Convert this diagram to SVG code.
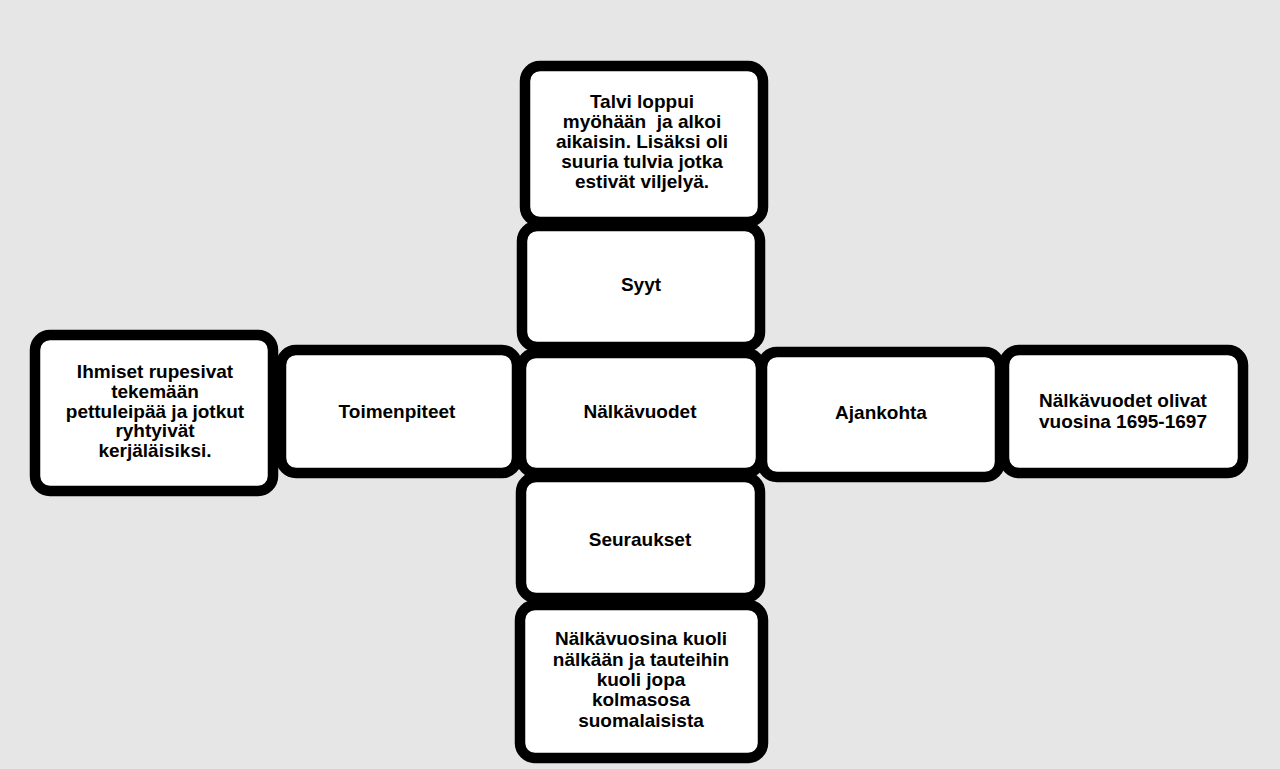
<svg xmlns="http://www.w3.org/2000/svg" width="1280" height="769" viewBox="0 0 1280 769">
<style>
.box{fill:#ffffff;stroke:#000000;stroke-width:10.5}
.t{font-family:"Liberation Sans",Arial,sans-serif;font-weight:bold;font-size:19px;fill:#000000;text-anchor:middle}
</style>
<rect x="0" y="0" width="1280" height="769" fill="#e6e6e6"/>
<g id="connectors"></g>
<g id="n-talvi">
<rect class="box" x="525" y="66" width="238" height="156" rx="15"/>
<text class="t" x="642" y="108">Talvi loppui</text>
<text class="t" x="642" y="128" xml:space="preserve">myöhään  ja alkoi</text>
<text class="t" x="642" y="148">aikaisin. Lisäksi oli</text>
<text class="t" x="642" y="168">suuria tulvia jotka</text>
<text class="t" x="642" y="188">estivät viljelyä.</text>
</g>
<g id="n-syyt">
<rect class="box" x="522" y="226" width="238" height="121" rx="15"/>
<text class="t" x="641" y="291">Syyt</text>
</g>
<g id="n-nalkavuodet">
<rect class="box" x="521" y="353" width="240" height="120" rx="15"/>
<text class="t" x="640" y="418">Nälkävuodet</text>
</g>
<g id="n-seuraukset">
<rect class="box" x="521" y="477" width="239" height="121" rx="15"/>
<text class="t" x="640" y="546">Seuraukset</text>
</g>
<g id="n-kuoli">
<rect class="box" x="520" y="605" width="243" height="153" rx="15"/>
<text class="t" x="641" y="645">Nälkävuosina kuoli</text>
<text class="t" x="641" y="666">nälkään ja tauteihin</text>
<text class="t" x="641" y="686">kuoli jopa</text>
<text class="t" x="641" y="706">kolmasosa</text>
<text class="t" x="641" y="727">suomalaisista</text>
</g>
<g id="n-toimenpiteet">
<rect class="box" x="281" y="350" width="236" height="123" rx="15"/>
<text class="t" x="397" y="418">Toimenpiteet</text>
</g>
<g id="n-ihmiset">
<rect class="box" x="35" y="335" width="238" height="156" rx="15"/>
<text class="t" x="155" y="378">Ihmiset rupesivat</text>
<text class="t" x="155" y="398">tekemään</text>
<text class="t" x="155" y="418">pettuleipää ja jotkut</text>
<text class="t" x="155" y="437">ryhtyivät</text>
<text class="t" x="155" y="457">kerjäläisiksi.</text>
</g>
<g id="n-ajankohta">
<rect class="box" x="762" y="352" width="238" height="125" rx="15"/>
<text class="t" x="881" y="419">Ajankohta</text>
</g>
<g id="n-vuosina">
<rect class="box" x="1004" y="350" width="239" height="123" rx="15"/>
<text class="t" x="1123" y="407">Nälkävuodet olivat</text>
<text class="t" x="1123" y="428">vuosina 1695-1697</text>
</g>
</svg>
